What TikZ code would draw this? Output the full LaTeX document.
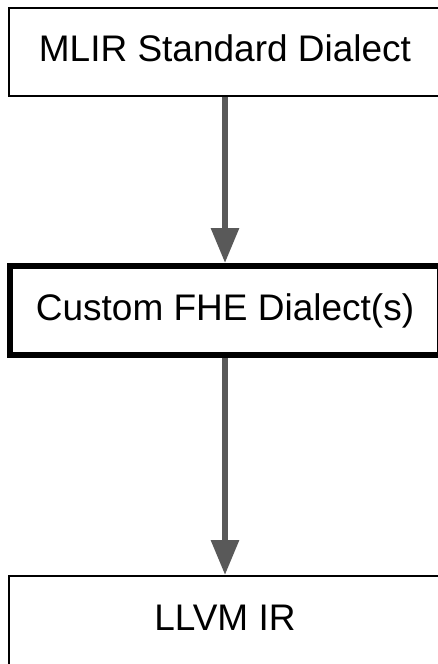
\documentclass[tikz,border=0pt]{standalone}
\usepackage{fontspec}
\setmainfont{Liberation Sans}
\usepackage{tikz}
\usetikzlibrary{arrows.meta}
\tikzset{>={Triangle[width=27pt,length=35pt]}}
\definecolor{mygray}{HTML}{595959}
\tikzset{dialect/.style={draw,black,fill=white,line width=2pt,minimum width=432pt,minimum height=88pt,inner sep=0pt,text height=27pt,text depth=8pt,font=\fontsize{37}{44}\selectfont}}

\begin{document}
\begin{tikzpicture}[x=1pt,y=-1pt]
		\useasboundingbox (0,0) rectangle (438,664);
		\clip (0,0) rectangle (438,664);

		\node[dialect] (std) at (225,52) {MLIR Standard Dialect};
		\node[dialect,line width=6pt,minimum width=430pt,minimum height=89pt] (fhe) at (225,310.5) {Custom FHE Dialect(s)};
		\node[dialect,minimum height=90pt] (llvm) at (225,621) {LLVM IR};

		%lowering steps
		\draw[->,line width=6pt,mygray] (std) -- (fhe);
		\draw[->,line width=6pt,mygray] (fhe) -- (llvm);
	\end{tikzpicture}
\end{document}
